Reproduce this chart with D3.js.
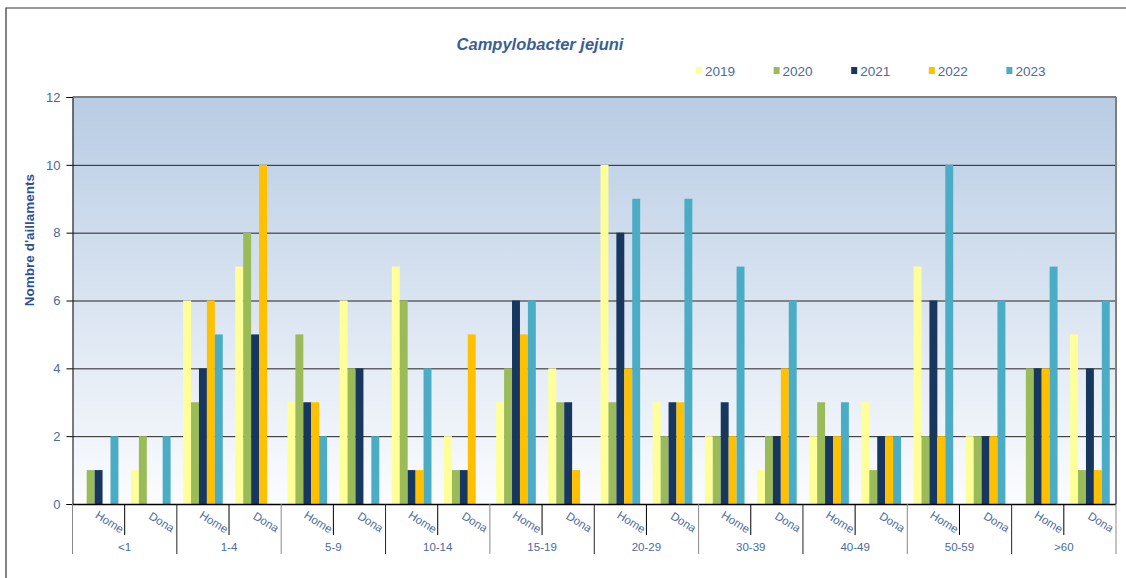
<!DOCTYPE html>
<meta charset="utf-8">
<style>
body { margin: 0; background: #fff; }
svg { font-family: "Liberation Sans", Arial, sans-serif; display: block; }
</style>
<body>
<svg width="1126" height="578"></svg>
<script src="https://d3js.org/d3.v7.min.js"></script>
<script>

// data
var ageGroups = ["<1", "1-4", "5-9", "10-14", "15-19", "20-29", "30-39", "40-49", "50-59", ">60"];
var kinds = ["Home", "Dona"];
var years = ["2019", "2020", "2021", "2022", "2023"];
var colors = ["#ffff99", "#9bbb59", "#17375e", "#ffc000", "#4bacc6"];

// one value per (age group, Home/Dona), in the order of ageGroups x kinds
var v2019 = [0, 1, 6, 7, 3, 6, 7, 2, 3, 4, 10, 3, 2, 1, 2, 3, 7, 2, 0, 5];
var v2020 = [1, 2, 3, 8, 5, 4, 6, 1, 4, 3, 3, 2, 2, 2, 3, 1, 2, 2, 4, 1];
var v2021 = [1, 0, 4, 5, 3, 4, 1, 1, 6, 3, 8, 3, 3, 2, 2, 2, 6, 2, 4, 4];
var v2022 = [0, 0, 6, 10, 3, 0, 1, 5, 5, 1, 4, 3, 2, 4, 2, 2, 2, 2, 4, 1];
var v2023 = [2, 2, 5, 0, 2, 2, 4, 0, 6, 0, 9, 9, 7, 6, 3, 2, 10, 6, 7, 6];
var series = [v2019, v2020, v2021, v2022, v2023];
var yTicks = [0, 2, 4, 6, 8, 10, 12];

var svg = d3.select("svg");
// plot box (note: "top" is taken by window.top, so use pl/pr/pt/pb)
var pl = 72.5, pr = 1116, pt = 97, pb = 504;

// outer frame
svg.append("path").attr("d", "M6,578V8H1126").attr("fill", "none").attr("stroke", "#333").attr("stroke-width", 1.2);

// categories
var cats = [];
ageGroups.forEach(function(g) { kinds.forEach(function(k) { cats.push(g + "|" + k); }); });

var x0 = d3.scaleBand().domain(cats).range([pl, pr]);
var bw = x0.bandwidth();
var x1 = d3.scaleBand().domain(years).range([bw * 0.12, bw * 0.88]);
var y = d3.scaleLinear().domain([0, 12]).range([pb, pt]);
var xg = d3.scaleBand().domain(ageGroups).range([pl, pr]);

// background gradient
var defs = svg.append("defs");
var grad = defs.append("linearGradient").attr("id", "bg").attr("x1", 0).attr("y1", 0).attr("x2", 0).attr("y2", 1);
grad.append("stop").attr("offset", "0%").attr("stop-color", "#b8cce4");
grad.append("stop").attr("offset", "100%").attr("stop-color", "#fbfcfe");
svg.append("rect").attr("x", pl).attr("y", pt).attr("width", pr - pl).attr("height", pb - pt).attr("fill", "url(#bg)");

// grid lines
svg.append("g").selectAll("line").data(yTicks.filter(function(d) { return d > 0 && d < 12; }))
  .enter().append("line")
    .attr("x1", pl).attr("x2", pr)
    .attr("y1", function(d) { return y(d) + 0.5; }).attr("y2", function(d) { return y(d) + 0.5; })
    .attr("stroke", "#222").attr("stroke-width", 1);

// plot frame top/right
svg.append("line").attr("x1", pl).attr("x2", pr).attr("y1", pt).attr("y2", pt).attr("stroke", "#7f7f7f").attr("stroke-width", 2);
svg.append("line").attr("x1", pr).attr("x2", pr).attr("y1", pt).attr("y2", pb).attr("stroke", "#7f7f7f").attr("stroke-width", 2);

// bars
var rows = cats.map(function(c, i) {
  return { cat: c, vals: years.map(function(yr, j) { return { year: yr, value: series[j][i], color: colors[j] }; }) };
});

var grp = svg.append("g").selectAll("g").data(rows).enter().append("g")
  .attr("transform", function(d) { return "translate(" + x0(d.cat) + ",0)"; });
grp.selectAll("rect").data(function(d) { return d.vals; }).enter().append("rect")
  .attr("x", function(d) { return x1(d.year); })
  .attr("width", x1.bandwidth())
  .attr("y", function(d) { return y(d.value); })
  .attr("height", function(d) { return y(0) - y(d.value); })
  .attr("fill", function(d) { return d.color; });

// y axis
var yAxis = svg.append("g").attr("transform", "translate(" + pl + ",0)")
  .call(d3.axisLeft(y).tickValues(yTicks).tickSize(6).tickPadding(6));
yAxis.select(".domain").attr("stroke", "#000");
yAxis.selectAll(".tick line").attr("stroke", "#000");
yAxis.selectAll("text").attr("font-size", 13).attr("fill", "#4a6a9b").attr("font-family", "Liberation Sans, Arial, sans-serif");

svg.append("text")
  .attr("transform", "translate(34,240) rotate(-90)")
  .attr("text-anchor", "middle")
  .attr("font-size", 13.5).attr("font-weight", "bold").attr("fill", "#2e5190")
  .text("Nombre d'aillaments");

// x axis line
svg.append("line").attr("x1", pl).attr("x2", pr).attr("y1", pb + 0.5).attr("y2", pb + 0.5).attr("stroke", "#000").attr("stroke-width", 1.5);

// short ticks between Home / Dona
svg.append("g").selectAll("line").data(ageGroups).enter().append("line")
  .attr("x1", function(d) { return xg(d) + xg.bandwidth() / 2; })
  .attr("x2", function(d) { return xg(d) + xg.bandwidth() / 2; })
  .attr("y1", pb).attr("y2", 535).attr("stroke", "#000");

// long ticks at group boundaries
var bounds = ageGroups.map(function(d) { return xg(d); }).concat([pr]);
svg.append("g").selectAll("line").data(bounds).enter().append("line")
  .attr("x1", function(d) { return d; }).attr("x2", function(d) { return d; })
  .attr("y1", pb).attr("y2", 554).attr("stroke", function(d, i) { return i % 2 ? "#222" : "#888"; });

// Home / Dona labels
svg.append("g").selectAll("text").data(cats).enter().append("text")
  .attr("transform", function(d) { return "translate(" + (x0(d) + bw / 2 + 11) + ",522) rotate(32)"; })
  .attr("text-anchor", "middle").attr("dy", "0.35em")
  .attr("font-size", 11.5).attr("fill", "#4a6a9b")
  .text(function(d) { return d.split("|")[1]; });

// age group labels
svg.append("g").selectAll("text").data(ageGroups).enter().append("text")
  .attr("x", function(d) { return xg(d) + xg.bandwidth() / 2; })
  .attr("y", 551)
  .attr("text-anchor", "middle").attr("font-size", 11.5).attr("fill", "#4a6a9b")
  .text(function(d) { return d; });

// title
svg.append("text").attr("x", 540).attr("y", 50).attr("text-anchor", "middle")
  .attr("font-size", 16.5).attr("font-weight", "bold").attr("font-style", "italic").attr("fill", "#3a5f96")
  .text("Campylobacter jejuni");

// legend
var leg = svg.append("g").selectAll("g").data(years).enter().append("g")
  .attr("transform", function(d, i) { return "translate(" + (696 + i * 77.6) + ",0)"; });
leg.append("rect").attr("x", 0).attr("y", 67).attr("width", 6).attr("height", 7)
  .attr("fill", function(d, i) { return colors[i]; });
leg.append("text").attr("x", 9).attr("y", 75.5).attr("font-size", 13.5).attr("fill", "#4a6a9b")
  .text(function(d) { return d; });

</script>
</body>
